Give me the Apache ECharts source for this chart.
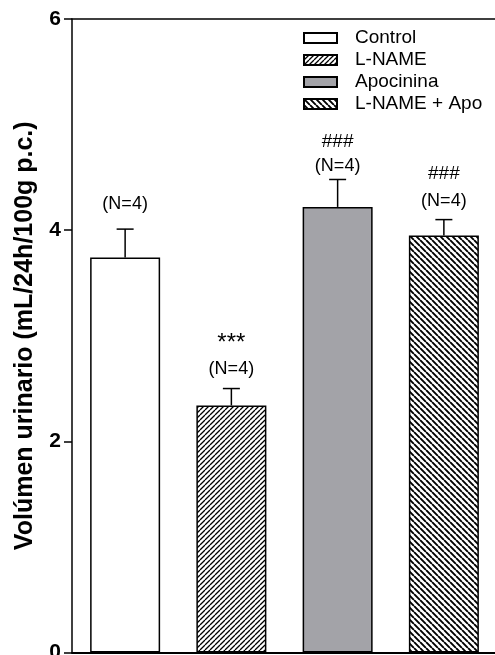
<!DOCTYPE html>
<html>
<head>
<meta charset="utf-8">
<script src="https://cdn.jsdelivr.net/npm/echarts@6/dist/echarts.min.js"></script>
<style>
html,body{margin:0;padding:0;background:#fff;}
#chart{width:495px;height:655px;}
</style>
</head>
<body>
<div id="chart"></div>
<script>
// ---- data ----
const categories = ['Control', 'L-NAME', 'Apocinina', 'L-NAME + Apo'];
const means = [3.74, 2.34, 4.22, 3.95];
const sems = [0.27, 0.16, 0.26, 0.15];
const nLabels = ['(N=4)', '(N=4)', '(N=4)', '(N=4)'];
const sigLabels = ['', '***', '###', '###'];
const yTicks = [0, 2, 4, 6];
const yTitle = 'Volúmen urinario (mL/24h/100g p.c.)';

// ---- layout / style (not data) ----
const FONT = "'Liberation Sans', Arial, sans-serif";
const nOffset = [25, 19.5, 13, 19];     // px above error cap
const sigOffset = [0, 45, 38, 46];      // px above error cap
const sigFont = [18, 24, 19, 19];

function hatch(dir, s, lw) {
  const c = document.createElement('canvas');
  c.width = s; c.height = s;
  const g = c.getContext('2d');
  g.fillStyle = '#fff'; g.fillRect(0, 0, s, s);
  g.strokeStyle = '#000'; g.lineWidth = lw;
  g.beginPath();
  for (let k = -1; k <= 1; k++) {
    if (dir === '/') { g.moveTo(k * s, s); g.lineTo(k * s + s, 0); }
    else { g.moveTo(k * s, 0); g.lineTo(k * s + s, s); }
  }
  g.stroke();
  return c;
}

const fills = [
  '#ffffff',
  { image: hatch('/', 5, 1.3), repeat: 'repeat' },
  '#a3a3a8',
  { image: hatch('\\', 6, 1.9), repeat: 'repeat' }
];

const barSeries = categories.map((name, i) => ({
  name: name,
  type: 'bar',
  barWidth: 70,
  barGap: '-100%',
  data: categories.map((_, j) => (j === i ? means[i] : '-')),
  itemStyle: { color: fills[i], borderColor: '#000', borderWidth: 1.5 },
  z: 2
}));

const errSeries = {
  type: 'custom',
  z: 5,
  data: categories.map((_, i) => [i, means[i], means[i] + sems[i]]),
  renderItem: function (params, api) {
    const i = params.dataIndex;
    const base = api.coord([api.value(0), api.value(1)]);
    const top = api.coord([api.value(0), api.value(2)]);
    const x = base[0];
    const children = [
      { type: 'line', shape: { x1: x, y1: base[1], x2: x, y2: top[1] }, style: { stroke: '#000', lineWidth: 1.5 } },
      { type: 'line', shape: { x1: x - 8.5, y1: top[1], x2: x + 8.5, y2: top[1] }, style: { stroke: '#000', lineWidth: 1.5 } },
      { type: 'text', x: x, y: top[1] - nOffset[i],
        style: { text: nLabels[i], align: 'center', verticalAlign: 'middle', fontSize: 18, fontFamily: FONT, fill: '#000' } }
    ];
    if (sigLabels[i]) {
      children.push({ type: 'text', x: x, y: top[1] - sigOffset[i],
        style: { text: sigLabels[i], align: 'center', verticalAlign: 'middle', fontSize: sigFont[i], fontFamily: FONT, fill: '#000' } });
    }
    return { type: 'group', children: children };
  }
};

const chart = echarts.init(document.getElementById('chart'));
chart.setOption({
  animation: false,
  backgroundColor: '#fff',
  grid: { left: 72, right: -2, top: 19, bottom: 2.5, outerBoundsMode: 'none', containLabel: false },
  legend: {
    orient: 'vertical',
    left: 303, top: 28.5,
    padding: 0,
    itemWidth: 33, itemHeight: 10, itemGap: 3,
    icon: 'rect',
    data: categories,
    textStyle: { fontSize: 19, fontFamily: FONT, color: '#000', padding: [0, 0, 0, 13], lineHeight: 19 }
  },
  xAxis: [
    { type: 'category', data: categories, boundaryGap: true,
      axisLine: { lineStyle: { color: '#000', width: 2 } },
      axisTick: { show: false }, axisLabel: { show: false }, splitLine: { show: false } },
    { type: 'category', data: categories, position: 'top',
      axisLine: { lineStyle: { color: '#000', width: 1.5 } },
      axisTick: { show: false }, axisLabel: { show: false }, splitLine: { show: false } }
  ],
  yAxis: {
    type: 'value', min: yTicks[0], max: yTicks[yTicks.length - 1], interval: 2,
    name: yTitle, nameLocation: 'middle', nameGap: 34,
    nameTextStyle: { fontSize: 25, fontWeight: 'bold', fontFamily: FONT, color: '#000' },
    axisLine: { show: true, lineStyle: { color: '#000', width: 1.5 } },
    axisTick: { show: true, length: 8, lineStyle: { color: '#000', width: 1.5 } },
    axisLabel: { fontSize: 21, fontWeight: 'bold', fontFamily: FONT, color: '#000', margin: 11 },
    splitLine: { show: false }
  },
  series: barSeries.concat([errSeries])
});
</script>
</body>
</html>
